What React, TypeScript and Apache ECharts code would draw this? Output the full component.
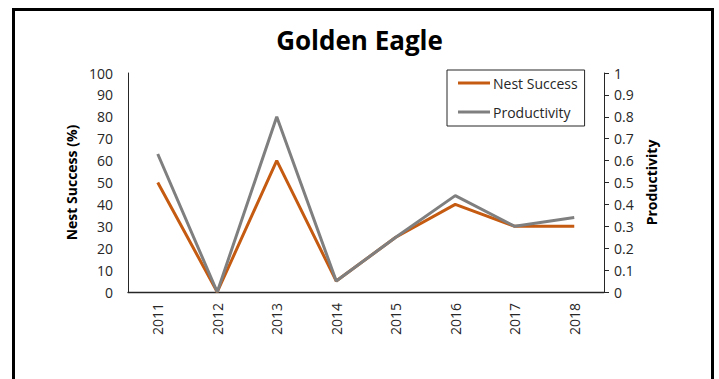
import React, { useEffect, useRef } from "react";
import * as echarts from "echarts";

const years = ["2011", "2012", "2013", "2014", "2015", "2016", "2017", "2018"];
const nestSuccess = [50, 0, 60, 5, 25, 40, 30, 30];
const productivity = [0.63, 0, 0.8, 0.05, 0.25, 0.44, 0.3, 0.34];
const leftTicks = { min: 0, max: 100, interval: 10 };
const rightTicks = { min: 0, max: 1, interval: 0.1 };

const FONT = "'Open Sans', 'Noto Sans', sans-serif";
const LABEL = "#262626";

export default function App() {
  const ref = useRef<HTMLDivElement>(null);
  useEffect(() => {
    document.body.style.margin = "0";
    const chart = echarts.init(ref.current!, null, { renderer: "svg" });
    chart.setOption({
      animation: false,
      backgroundColor: "#ffffff",
      textStyle: { fontFamily: FONT },
      title: {
        text: "Golden Eagle",
        left: "center",
        top: 22,
        textStyle: { fontSize: 26, fontWeight: "bold", color: "#000", fontFamily: FONT },
      },
      graphic: [
        {
          type: "rect",
          shape: { x: 13.5, y: 9.5, width: 699, height: 420 },
          style: { fill: "none", stroke: "#000", lineWidth: 3 },
          silent: true,
        },
      ],
      legend: {
        orient: "vertical",
        left: 447,
        top: 70,
        width: 137,
        padding: [6, 7, 7, 11],
        borderColor: "#262626",
        borderWidth: 1,
        itemWidth: 32,
        itemHeight: 3,
        itemGap: 15,
        icon: "rect",
        textStyle: { fontSize: 14, color: LABEL, fontFamily: FONT, padding: [0, 0, 0, -2] },
        data: ["Nest Success", "Productivity"],
      },
      grid: { left: 128, right: 115, top: 73, bottom: 87, containLabel: false },
      xAxis: {
        type: "category",
        data: years,
        boundaryGap: true,
        axisLine: { lineStyle: { color: "#262626", width: 1.3 } },
        axisTick: { show: false },
        axisLabel: { rotate: 90, margin: 11, fontSize: 14, color: LABEL, fontFamily: FONT },
        splitLine: { show: false },
      },
      yAxis: [
        {
          type: "value",
          ...leftTicks,
          name: "Nest Success (%)",
          nameLocation: "middle",
          nameRotate: 90,
          nameGap: 40,
          nameTextStyle: { fontSize: 14, fontWeight: "bold", color: "#000", fontFamily: FONT },
          axisLine: { show: true, lineStyle: { color: "#262626", width: 1 } },
          axisTick: { show: false },
          axisLabel: { margin: 15, fontSize: 14, color: LABEL, fontFamily: FONT },
          splitLine: { show: false },
        },
        {
          type: "value",
          position: "right",
          ...rightTicks,
          name: "Productivity",
          nameLocation: "middle",
          nameRotate: 90,
          nameGap: 31,
          nameTextStyle: { fontSize: 14, fontWeight: "bold", color: "#000", fontFamily: FONT },
          axisLine: { show: true, lineStyle: { color: "#262626", width: 1 } },
          axisTick: { show: true, length: 5, inside: false, lineStyle: { color: "#262626" } },
          axisLabel: { margin: 10, fontSize: 14, color: LABEL, fontFamily: FONT },
          splitLine: { show: false },
        },
      ],
      series: [
        {
          name: "Nest Success",
          type: "line",
          yAxisIndex: 0,
          data: nestSuccess,
          showSymbol: false,
          symbol: "none",
          color: "#C55A11",
          lineStyle: { width: 3, color: "#C55A11" },
        },
        {
          name: "Productivity",
          type: "line",
          yAxisIndex: 1,
          data: productivity,
          showSymbol: false,
          symbol: "none",
          color: "#7F7F7F",
          lineStyle: { width: 3, color: "#7F7F7F" },
        },
      ],
    });
    return () => chart.dispose();
  }, []);
  return <div ref={ref} style={{ width: 719, height: 379 }} />;
}
